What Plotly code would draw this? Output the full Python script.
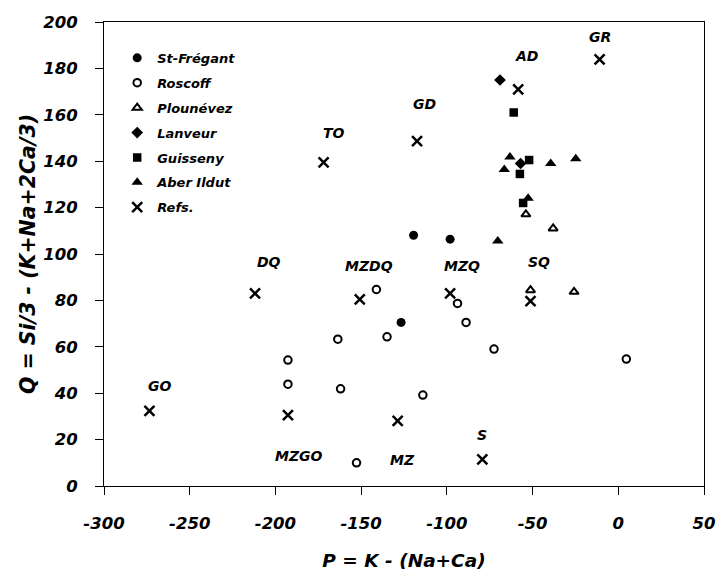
import plotly.graph_objects as go

# Sample groups: P = K - (Na+Ca), Q = Si/3 - (K+Na+2Ca/3)
st_fregant_p = [-119.4, -98.1, -126.7]
st_fregant_q = [108.1, 106.4, 70.5]

roscoff_p = [-141.1, -134.9, -163.6, -192.7, -192.7, -162.0, -114.0, -93.8, -88.8, -72.5, -152.7, 4.7]
roscoff_q = [84.7, 64.3, 63.3, 54.3, 43.9, 41.9, 39.2, 78.7, 70.5, 59.0, 10.0, 54.7]

plounevez_p = [-53.9, -38.0, -51.2, -25.8]
plounevez_q = [117.1, 111.0, 84.4, 83.7]

lanveur_p = [-69.0, -57.0]
lanveur_q = [175.0, 139.0]

guisseny_p = [-61.0, -52.0, -57.4, -55.5]
guisseny_q = [161.0, 140.5, 134.5, 122.0]

aber_ildut_p = [-63.2, -66.5, -39.4, -24.8, -52.6, -70.3]
aber_ildut_q = [141.8, 136.4, 139.0, 141.1, 124.0, 105.6]

# Reference compositions
refs_names = ["GO", "DQ", "MZGO", "MZDQ", "MZ", "TO", "GD", "MZQ", "S", "SQ", "AD", "GR"]
refs_p = [-273.5, -211.9, -192.7, -150.8, -128.7, -171.9, -117.4, -98.1, -79.3, -51.2, -58.4, -10.9]
refs_q = [32.4, 83.0, 30.6, 80.4, 28.1, 139.5, 148.7, 83.0, 11.5, 79.7, 171.0, 183.9]

# Axis ticks
x_ticks = [-300, -250, -200, -150, -100, -50, 0, 50]
y_ticks = [0, 20, 40, 60, 80, 100, 120, 140, 160, 180, 200]

# Pixel offsets of each reference label from its marker
label_shift = {
    "GO": (10, 25), "DQ": (14, 31), "MZGO": (11, -41), "MZDQ": (9, 33),
    "MZ": (5, -39), "TO": (10, 29), "GD": (7, 37), "MZQ": (12, 27),
    "S": (0, 24), "SQ": (8, 39), "AD": (8, 33), "GR": (0, 22),
}

FONT = "DejaVu Sans"
BLACK = "#000000"

fig = go.Figure()


def add_group(name, p, q, symbol, size, line_width=0):
    fig.add_trace(go.Scatter(
        x=p, y=q, mode="markers", name=name, legendgroup=name,
        marker=dict(symbol=symbol, size=size, color=BLACK,
                    line=dict(color=BLACK, width=line_width)),
    ))


add_group("St-Frégant", st_fregant_p, st_fregant_q, "circle", 9)
add_group("Roscoff", roscoff_p, roscoff_q, "circle-open", 7.5, 2)
add_group("Plounévez", plounevez_p, plounevez_q, "triangle-up-open", 8, 2)
add_group("Lanveur", lanveur_p, lanveur_q, "diamond", 9)
add_group("Guisseny", guisseny_p, guisseny_q, "square", 8.5)
add_group("Aber Ildut", aber_ildut_p, aber_ildut_q, "triangle-up", 10)
add_group("Refs.", refs_p, refs_q, "x-thin-open", 10, 2.5)

for name, p, q in zip(refs_names, refs_p, refs_q):
    dx, dy = label_shift[name]
    fig.add_annotation(
        x=p, y=q, text=name, showarrow=False, xshift=dx, yshift=dy,
        font=dict(family=FONT, size=14, color=BLACK, weight="bold", style="italic"),
    )

axis_common = dict(
    showline=True, linecolor=BLACK, linewidth=1, mirror=True,
    ticks="outside", ticklen=8, tickcolor=BLACK, tickwidth=1,
    showgrid=False, zeroline=False, automargin=False,
    tickfont=dict(family=FONT, size=16.5, color=BLACK, weight="bold", style="italic"),
)

fig.update_xaxes(
    range=[-300, 50], tickvals=x_ticks, ticktext=[str(v) for v in x_ticks],
    ticklabelstandoff=14,
    title=dict(text="P = K - (Na+Ca)", standoff=22,
               font=dict(family=FONT, size=18.5, color=BLACK, weight="bold", style="italic")),
    **axis_common,
)
fig.update_yaxes(
    range=[0, 200], tickvals=y_ticks, ticktext=[str(v) for v in y_ticks],
    ticklabelstandoff=14,
    title=dict(text="Q = Si/3 - (K+Na+2Ca/3)", standoff=2,
               font=dict(family=FONT, size=20.5, color=BLACK, weight="bold", style="italic")),
    **axis_common,
)

fig.update_layout(
    width=717, height=573,
    margin=dict(l=104, r=13, t=22, b=87),
    paper_bgcolor="white", plot_bgcolor="white",
    showlegend=True,
    legend=dict(
        x=0.022, y=0.955, xanchor="left", yanchor="top",
        bgcolor="rgba(0,0,0,0)", tracegroupgap=5, itemwidth=30,
        font=dict(family=FONT, size=13, color=BLACK, weight="bold", style="italic"),
    ),
)

fig.write_html("out.html")
